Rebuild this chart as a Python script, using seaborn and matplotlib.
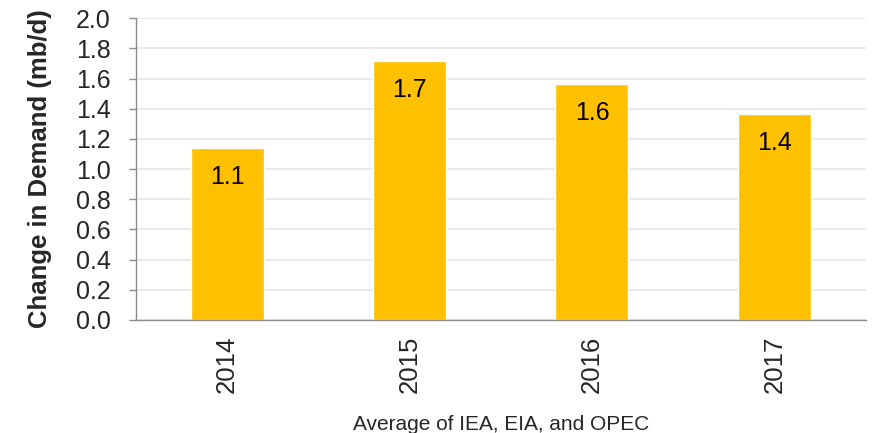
import numpy as np
import matplotlib.pyplot as plt
import seaborn as sns
import pandas as pd
from matplotlib.ticker import FixedLocator

years = ["2014", "2015", "2016", "2017"]
demand = [1.14, 1.715, 1.565, 1.365]
labels = ["1.1", "1.7", "1.6", "1.4"]

sns.set_style("white")
plt.rcParams['font.family'] = ['Liberation Sans', 'DejaVu Sans']

df = pd.DataFrame({"year": years, "demand": demand})

fig = plt.figure(figsize=(8.77, 4.33), dpi=100)
ax = fig.add_axes([0.155, 0.261, 0.832, 0.697])

sns.barplot(data=df, x="year", y="demand", color="#FFC000", saturation=1,
            width=0.4, ax=ax)

for i, (v, t) in enumerate(zip(demand, labels)):
    ax.annotate(t, (i, v), xytext=(0, -21), textcoords="offset points",
                ha="center", va="center", fontsize=18, color="black")

ax.set_ylim(0, 2.0)
ax.set_yticks(np.arange(0, 2.01, 0.2))
ax.set_yticklabels([f"{v:.1f}" for v in np.arange(0, 2.01, 0.2)], fontsize=18)
ax.set_xlim(-0.5, len(years) - 0.5)
ax.yaxis.grid(True, color="#E6E6E6", linewidth=1.2)
ax.set_axisbelow(True)

ax.tick_params(axis="x", which="major", length=0, labelsize=18.5, rotation=90, pad=11)
ax.xaxis.set_minor_locator(FixedLocator(np.arange(-0.5, len(years), 1)))
ax.tick_params(axis="x", which="minor", length=5, color="#8C8C8C", width=1)
ax.tick_params(axis="y", length=5, color="#8C8C8C", width=1, left=True, pad=13)

for s in ["top", "right"]:
    ax.spines[s].set_visible(False)
for s in ["left", "bottom"]:
    ax.spines[s].set_color("#8C8C8C")
    ax.spines[s].set_linewidth(1)

ax.set_ylabel("Change in Demand (mb/d)", fontsize=18.5, fontweight="bold", labelpad=17)
ax.set_xlabel("Average of IEA, EIA, and OPEC", fontsize=15, labelpad=16)

fig.savefig("out.png", dpi=100)
